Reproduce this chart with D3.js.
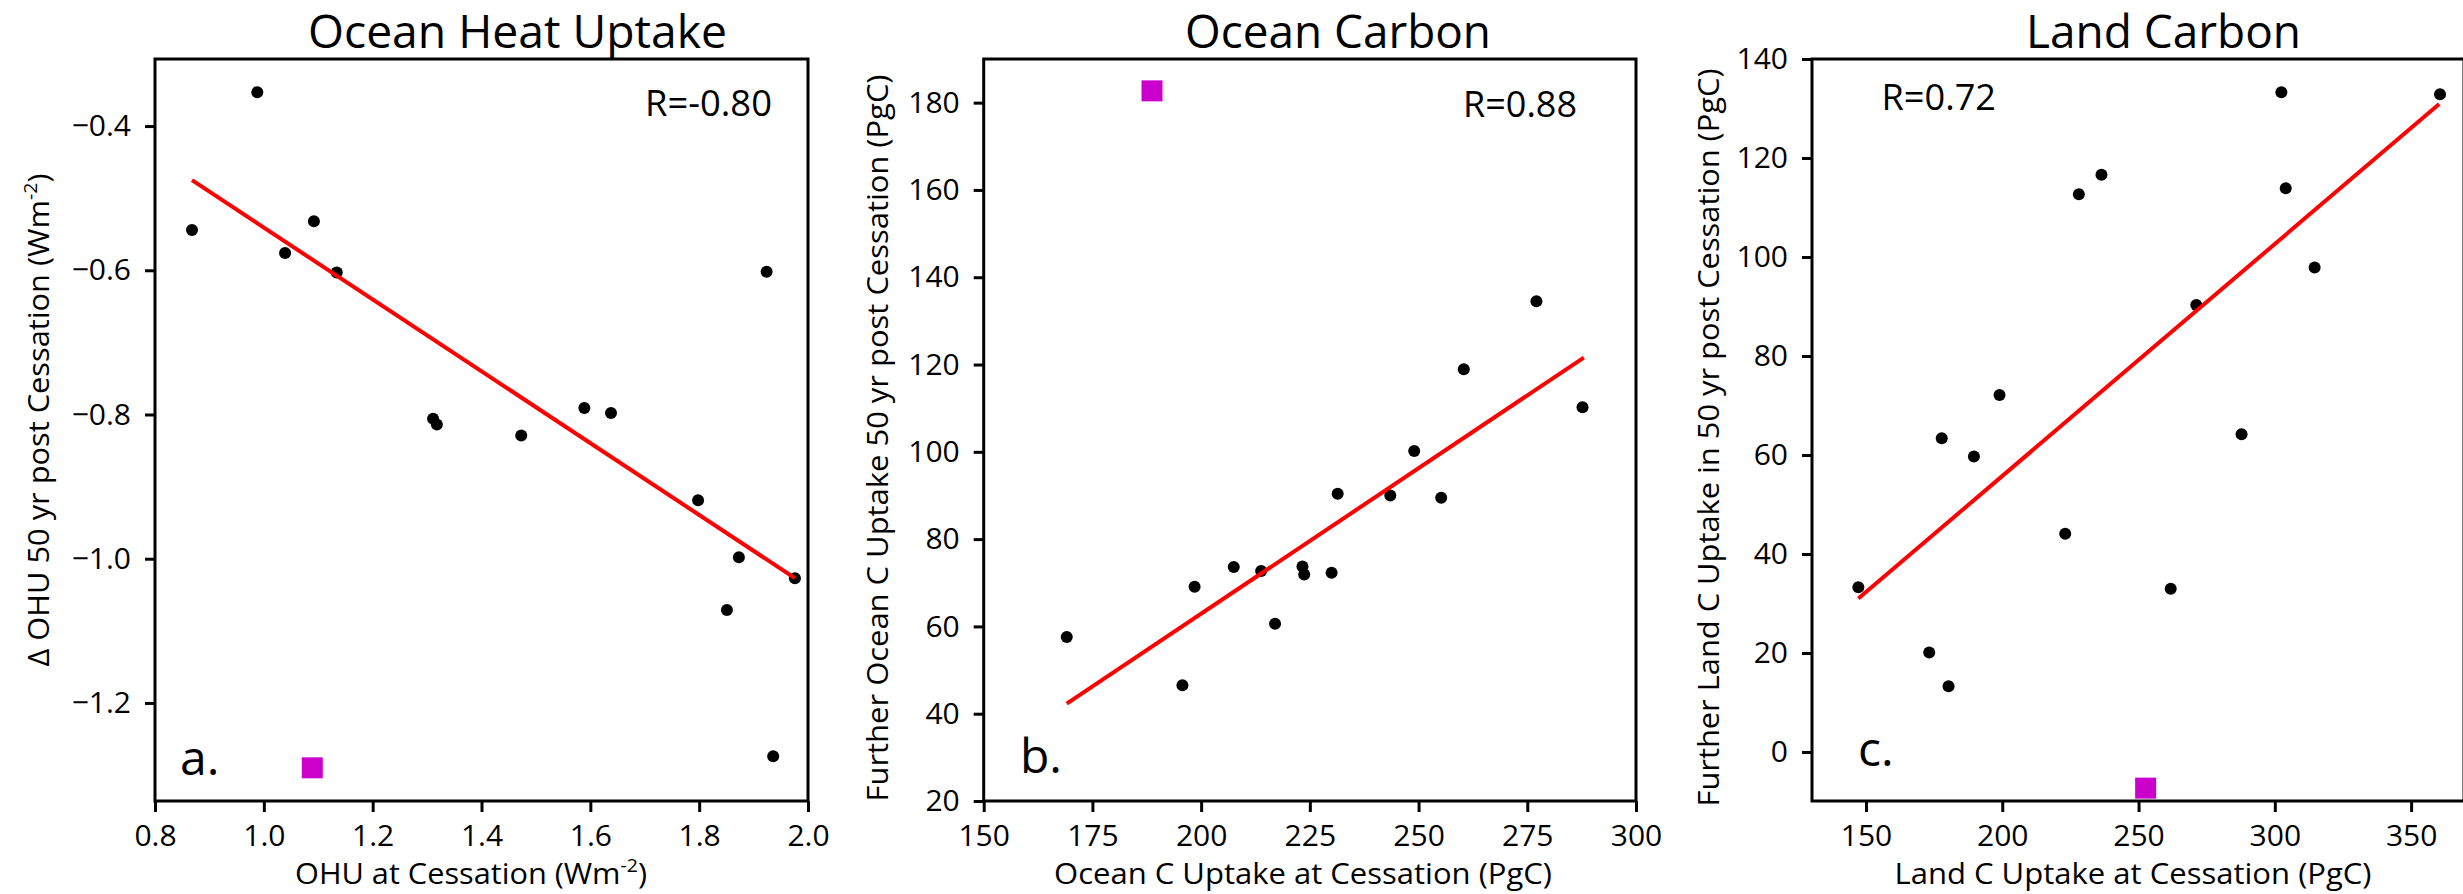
<!DOCTYPE html>
<html><head><meta charset="utf-8">
<script src="https://cdn.jsdelivr.net/npm/d3@7"></script>
<style>
body{margin:0;background:#fff}
svg{display:block}
text{font-family:"Open Sans",sans-serif;fill:#000}
</style>
</head><body>
<svg id="chart" width="2463" height="894"></svg>
<script>
// ---------------- data ----------------
const titles = ["Ocean Heat Uptake", "Ocean Carbon", "Land Carbon"];
const rLabels = ["R=-0.80", "R=0.88", "R=0.72"];
const panelLetters = ["a.", "b.", "c."];
// axis labels as [before superscript, superscript, after]
const xLabels = [["OHU at Cessation (Wm", "-2", ")"], ["Ocean C Uptake at Cessation (PgC)", "", ""], ["Land C Uptake at Cessation (PgC)", "", ""]];
const yLabels = [["\u0394 OHU 50 yr post Cessation (Wm", "-2", ")"], ["Further Ocean C Uptake 50 yr post Cessation (PgC)", "", ""], ["Further Land C Uptake in 50 yr post Cessation (PgC)", "", ""]];

// panel a: Ocean heat uptake
const ohuAtCessation = [0.988, 0.868, 1.039, 1.092, 1.134, 1.924, 1.311, 1.318, 1.473, 1.589, 1.638, 1.798, 1.873, 1.976, 1.851, 1.936];
const ohuDelta50yr  = [-0.353, -0.544, -0.576, -0.532, -0.603, -0.602, -0.806, -0.814, -0.829, -0.791, -0.798, -0.919, -0.998, -1.027, -1.071, -1.274];
const ohuObs = [1.089, -1.290];
const ohuFitX = [0.868, 1.976];
const ohuFitY = [-0.475, -1.027];
const ohuXTicks = [0.8, 1.0, 1.2, 1.4, 1.6, 1.8, 2.0];
const ohuYTicks = [-0.4, -0.6, -0.8, -1.0, -1.2];
const ohuXDomain = [0.8, 2.0];
const ohuYDomain = [-1.336, -0.307];

// panel b: Ocean carbon
const oceanCAtCessation = [277.1, 260.4, 287.7, 249.0, 231.4, 243.5, 255.2, 207.5, 213.8, 223.3, 223.7, 230.0, 198.5, 217.0, 169.1, 195.7];
const oceanCFurther     = [134.5, 118.9, 110.2, 100.2, 90.4, 90.0, 89.5, 73.6, 72.7, 73.7, 71.9, 72.3, 69.1, 60.6, 57.6, 46.5];
const oceanCObs = [188.7, 182.7];
const oceanCFitX = [169.1, 288.0];
const oceanCFitY = [42.3, 121.6];
const oceanCXTicks = [150, 175, 200, 225, 250, 275, 300];
const oceanCYTicks = [20, 40, 60, 80, 100, 120, 140, 160, 180];
const oceanCXDomain = [150, 300];
const oceanCYDomain = [20, 190];

// panel c: Land carbon
const landCAtCessation = [302.4, 360.6, 236.4, 228.1, 304.0, 314.6, 271.2, 199.0, 177.8, 287.8, 189.6, 223.1, 147.2, 261.8, 173.2, 180.3];
const landCFurther     = [133.3, 132.9, 116.6, 112.7, 113.9, 97.9, 90.3, 72.1, 63.4, 64.2, 59.7, 44.1, 33.3, 33.0, 20.1, 13.3];
const landCObs = [252.6, -7.3];
const landCFitX = [147.2, 360.3];
const landCFitY = [31.0, 130.9];
const landCXTicks = [150, 200, 250, 300, 350];
const landCYTicks = [0, 20, 40, 60, 80, 100, 120, 140];
const landCXDomain = [130.2, 369.4];
const landCYDomain = [-9.9, 140];

// ---------------- layout ----------------
const plotTop = 59, plotBottom = 801;
const panels = [
  {x: ohuAtCessation, y: ohuDelta50yr, obs: ohuObs, fx: ohuFitX, fy: ohuFitY, xt: ohuXTicks, yt: ohuYTicks,
   xd: ohuXDomain, yd: ohuYDomain, xf: d3.format(".1f"), yf: d3.format(".1f"),
   left: 155, right: 808, titleX: 517.5, titleW: 419, rX: 645, rY: 116, rW: 127,
   letX: 180, letY: 775, xlX: 471, xlW: 352, ylX: 49, ylY: 420, ylW: 493},
  {x: oceanCAtCessation, y: oceanCFurther, obs: oceanCObs, fx: oceanCFitX, fy: oceanCFitY, xt: oceanCXTicks, yt: oceanCYTicks,
   xd: oceanCXDomain, yd: oceanCYDomain, xf: d3.format("d"), yf: d3.format("d"),
   left: 983.7, right: 1636, titleX: 1338, titleW: 306, rX: 1463, rY: 117, rW: 114,
   letX: 1020, letY: 773, xlX: 1303, xlW: 498, ylX: 888, ylY: 438, ylW: 727},
  {x: landCAtCessation, y: landCFurther, obs: landCObs, fx: landCFitX, fy: landCFitY, xt: landCXTicks, yt: landCYTicks,
   xd: landCXDomain, yd: landCYDomain, xf: d3.format("d"), yf: d3.format("d"),
   left: 1812, right: 2464, titleX: 2163.5, titleW: 275, rX: 1881.5, rY: 110, rW: 114.5,
   letX: 1858, letY: 766, xlX: 2133, xlW: 477, ylX: 1719, ylY: 437.5, ylW: 738}
];

const svg = d3.select("#chart");
svg.append("rect").attr("width", 2463).attr("height", 894).attr("fill", "#fff");

function addSup(sel, parts, supSize) {
  sel.append("tspan").text(parts[0]);
  if (parts[1]) {
    sel.append("tspan").attr("font-size", supSize).attr("dy", -12).text(parts[1]);
    sel.append("tspan").attr("dy", 12).text(parts[2]);
  }
}

panels.forEach((p, i) => {
  const xs = d3.scaleLinear().domain(p.xd).range([p.left, p.right]);
  const ys = d3.scaleLinear().domain(p.yd).range([plotBottom, plotTop]);
  const g = svg.append("g");

  // axes
  const xa = g.append("g").attr("transform", `translate(0,${plotBottom})`)
    .call(d3.axisBottom(xs).tickValues(p.xt).tickFormat(p.xf).tickSize(11).tickPadding(13));
  const ya = g.append("g").attr("transform", `translate(${p.left},0)`)
    .call(d3.axisLeft(ys).tickValues(p.yt).tickFormat(p.yf).tickSize(10).tickPadding(14));
  [xa, ya].forEach(a => {
    a.select(".domain").remove();
    a.selectAll(".tick line").attr("stroke", "#000").attr("stroke-width", 3);
    a.selectAll(".tick text").attr("font-size", 30).attr("font-family", "Open Sans").attr("fill", "#000");
  });

  // frame
  g.append("rect").attr("x", p.left).attr("y", plotTop)
    .attr("width", p.right - p.left).attr("height", plotBottom - plotTop)
    .attr("fill", "none").attr("stroke", "#000").attr("stroke-width", 3);

  // model points
  g.selectAll("circle.pt").data(d3.range(p.x.length)).join("circle")
    .attr("class", "pt")
    .attr("cx", k => xs(p.x[k])).attr("cy", k => ys(p.y[k])).attr("r", 6)
    .attr("fill", "#000");

  // fit line
  g.append("line")
    .attr("x1", xs(p.fx[0])).attr("y1", ys(p.fy[0]))
    .attr("x2", xs(p.fx[1])).attr("y2", ys(p.fy[1]))
    .attr("stroke", "#ff0000").attr("stroke-width", 4);

  // observation square
  const sq = 21;
  g.append("rect")
    .attr("x", xs(p.obs[0]) - sq / 2).attr("y", ys(p.obs[1]) - sq / 2)
    .attr("width", sq).attr("height", sq).attr("fill", "#cc00cc");

  // title
  g.append("text").attr("x", p.titleX).attr("y", 48).attr("text-anchor", "middle")
    .attr("font-family", "Liberation Sans").attr("font-size", 45)
    .attr("textLength", p.titleW).attr("lengthAdjust", "spacingAndGlyphs")
    .text(titles[i]);

  // R label
  g.append("text").attr("x", p.rX).attr("y", p.rY).attr("font-size", 36)
    .attr("textLength", p.rW).attr("lengthAdjust", "spacingAndGlyphs").text(rLabels[i]);

  // panel letter
  g.append("text").attr("x", p.letX).attr("y", p.letY).attr("font-size", 48).text(panelLetters[i]);

  // x label
  const xl = g.append("text").attr("x", p.xlX).attr("y", 884).attr("text-anchor", "middle")
    .attr("font-size", 30).attr("textLength", p.xlW).attr("lengthAdjust", "spacingAndGlyphs");
  addSup(xl, xLabels[i], 19);

  // y label
  const yl = g.append("text")
    .attr("transform", `translate(${p.ylX},${p.ylY}) rotate(-90)`)
    .attr("text-anchor", "middle").attr("font-size", 30)
    .attr("textLength", p.ylW).attr("lengthAdjust", "spacingAndGlyphs");
  addSup(yl, yLabels[i], 19);
});
</script>
</body></html>
